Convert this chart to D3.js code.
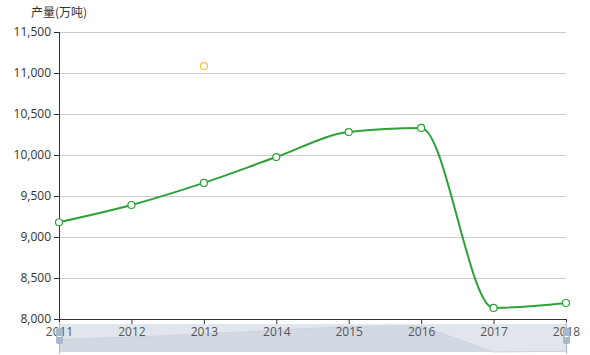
<!DOCTYPE html>
<html>
<head>
<meta charset="utf-8">
<script src="https://cdn.jsdelivr.net/npm/d3@7"></script>
<style>
body { margin: 0; background: #fff; }
text { font-family: "Noto Sans CJK SC", "Noto Sans", sans-serif; }
</style>
</head>
<body>
<div class="chart"></div>
<script>
// data
var years = ["2011", "2012", "2013", "2014", "2015", "2016", "2017", "2018"];
var output = [9180, 9390, 9660, 9975, 10280, 10330, 8135, 8195];
var markYear = ["2013"];
var markValue = [11085];
var yTicks = [8000, 8500, 9000, 9500, 10000, 10500, 11000, 11500];

var width = 590, height = 355;
var pLeft = 59, pRight = 566, pTop = 32, pBottom = 319;

var svg = d3.select(".chart").append("svg")
    .attr("width", width)
    .attr("height", height);

var x = d3.scalePoint().domain(years).range([pLeft, pRight]);
var y = d3.scaleLinear().domain([8000, 11500]).range([pBottom, pTop]);

// grid
svg.append("g").selectAll("line").data(yTicks.slice(1)).enter().append("line")
    .attr("x1", pLeft).attr("x2", pRight)
    .attr("y1", d => Math.round(y(d)) + 0.5).attr("y2", d => Math.round(y(d)) + 0.5)
    .attr("stroke", "#ccc").attr("stroke-width", 1);

// slider (data zoom) at bottom
var sTop = 324, sBottom = 352;
svg.append("rect")
    .attr("x", pLeft).attr("y", sTop)
    .attr("width", pRight - pLeft).attr("height", sBottom - sTop)
    .attr("fill", "#e1e5ec");
var ys = d3.scaleLinear().domain(d3.extent(output)).range([sBottom, sTop + 2]);
var shadow = d3.area()
    .x((d, i) => x(years[i]))
    .y0(sBottom)
    .y1(d => ys(d));
svg.append("path").datum(output)
    .attr("d", shadow)
    .attr("fill", "#d3d9e3");
svg.append("path").datum(output)
    .attr("d", d3.line().x((d, i) => x(years[i])).y(d => ys(d)))
    .attr("fill", "none").attr("stroke", "#cdd3dd").attr("stroke-width", 1);

// axes
var yAxis = d3.axisLeft(y).tickValues(yTicks).tickSize(5).tickPadding(3)
    .tickFormat(d3.format(","));
var gy = svg.append("g").attr("transform", "translate(" + pLeft + ",0)").call(yAxis);
gy.select(".domain").attr("stroke", "#333").attr("d", "M0.5," + pTop + "V" + pBottom);
gy.selectAll(".tick line").attr("stroke", "#333");
gy.selectAll("text").attr("fill", "#333").style("font-size", "12px")
    .style("font-family", "'Open Sans', 'Noto Sans', sans-serif");

var xAxis = d3.axisBottom(x).tickSize(5).tickPadding(3);
var gx = svg.append("g").attr("transform", "translate(0," + pBottom + ")").call(xAxis);
gx.select(".domain").attr("stroke", "#333").attr("d", "M" + pLeft + ",0.5H" + pRight);
gx.selectAll(".tick line").attr("stroke", "#333");
gx.selectAll("text").attr("fill", "#555").style("font-size", "12px")
    .style("font-family", "'Open Sans', 'Noto Sans', sans-serif");

// slider handles
[pLeft, pRight].forEach(function (hx) {
    svg.append("line")
        .attr("x1", hx + 0.5).attr("x2", hx + 0.5).attr("y1", 322).attr("y2", 354)
        .attr("stroke", "#a7b7cc");
    svg.append("rect")
        .attr("x", hx - 3).attr("y", 328).attr("width", 7).attr("height", 16)
        .attr("rx", 2).attr("fill", "#a7b7cc");
    svg.append("line")
        .attr("x1", hx - 1.5).attr("x2", hx + 2.5).attr("y1", 336.5).attr("y2", 336.5)
        .attr("stroke", "#fff");
});

// axis name
svg.append("text")
    .attr("x", pLeft).attr("y", 17)
    .attr("text-anchor", "middle")
    .attr("fill", "#333")
    .style("font-size", "12px")
    .text("产量(万吨)");

// line
var line = d3.line()
    .x((d, i) => x(years[i]))
    .y(d => y(d))
    .curve(d3.curveMonotoneX);
svg.append("path").datum(output)
    .attr("d", line)
    .attr("fill", "none")
    .attr("stroke", "#2ea03a")
    .attr("stroke-width", 2);

svg.append("g").selectAll("circle").data(output).enter().append("circle")
    .attr("cx", (d, i) => x(years[i]))
    .attr("cy", d => y(d))
    .attr("r", 3.5)
    .attr("fill", "#fff")
    .attr("stroke", "#2ea03a")
    .attr("stroke-width", 1.2);

// extra point
svg.append("g").selectAll("circle").data(markValue).enter().append("circle")
    .attr("cx", (d, i) => x(markYear[i]))
    .attr("cy", d => y(d))
    .attr("r", 3.5)
    .attr("fill", "#fff")
    .attr("stroke", "#f5c044")
    .attr("stroke-width", 1.2);
</script>
</body>
</html>
